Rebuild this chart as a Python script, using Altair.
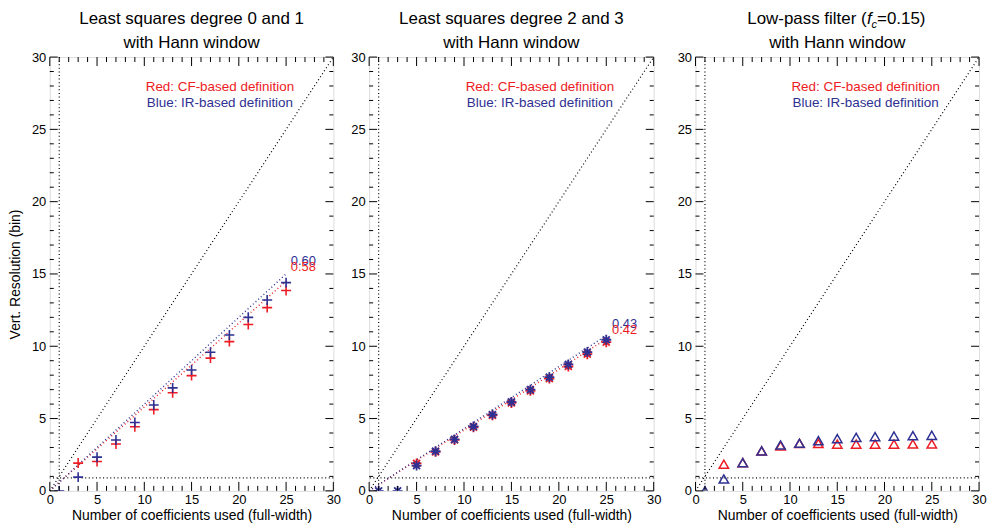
import altair as alt
import pandas as pd

FONT = "Liberation Sans"
RED = "#ed1c24"
BLUE = "#2e3192"
H = 436
WIDTHS = [285, 286, 285]
EXTENTS = [20, 21, 27]

title_line1 = ["Least squares degree 0 and 1", "Least squares degree 2 and 3", None]
title_line2 = "with Hann window"
title3_parts = ["Low-pass filter (", "f", "c", "=0.15)"]
x_title = "Number of coefficients used (full-width)"
y_title = "Vert. Resolution (bin)"
legend_texts = ["Red: CF-based definition", "Blue: IR-based definition"]
legend_x = [18.0, 18.0]
legend_y = [27.9, 26.8]

major_ticks = [0, 5, 10, 15, 20, 25, 30]
minor_ticks = [v for v in range(31) if v % 5 != 0]

# Panel 1: least squares degree 0 and 1
p1_red_x = [3, 5, 7, 9, 11, 13, 15, 17, 19, 21, 23, 25]
p1_red_y = [1.92, 2.03, 3.24, 4.43, 5.62, 6.78, 7.97, 9.18, 10.32, 11.5, 12.67, 13.86]
p1_blue_x = [1, 3, 5, 7, 9, 11, 13, 15, 17, 19, 21, 23, 25]
p1_blue_y = [0.0, 0.95, 2.33, 3.52, 4.73, 5.94, 7.12, 8.36, 9.59, 10.78, 12.0, 13.2, 14.4]
p1_fit_x = [0, 25]
p1_fit_red = [0, 14.5]
p1_fit_blue = [0, 15.0]
p1_labels = ["0.60", "0.58"]
p1_label_x = [25.5, 25.5]
p1_label_y = [15.9, 15.5]

# Panel 2: least squares degree 2 and 3
p2_red_x = [5, 7, 9, 11, 13, 15, 17, 19, 21, 23, 25]
p2_red_y = [1.9, 2.7, 3.52, 4.4, 5.22, 6.08, 6.92, 7.76, 8.6, 9.45, 10.28]
p2_blue_x = [1, 3, 5, 7, 9, 11, 13, 15, 17, 19, 21, 23, 25]
p2_blue_y = [0.0, 0.0, 1.75, 2.74, 3.56, 4.45, 5.28, 6.15, 7.0, 7.86, 8.74, 9.6, 10.45]
p2_fit_x = [0, 25]
p2_fit_red = [0, 10.5]
p2_fit_blue = [0, 10.75]
p2_labels = ["0.43", "0.42"]
p2_label_x = [25.6, 25.6]
p2_label_y = [11.55, 11.1]

# Panel 3: low-pass filter
p3_red_x = [3, 5, 7, 9, 11, 13, 15, 17, 19, 21, 23, 25]
p3_red_y = [1.84, 1.95, 2.76, 3.1, 3.28, 3.28, 3.23, 3.23, 3.23, 3.23, 3.24, 3.25]
p3_blue_x = [1, 3, 5, 7, 9, 11, 13, 15, 17, 19, 21, 23, 25]
p3_blue_y = [0.0, 0.82, 1.95, 2.76, 3.17, 3.29, 3.47, 3.61, 3.70, 3.75, 3.79, 3.82, 3.84]

diag_x = [0, 30]
diag_y = [0, 30]
vline_x = [1]
hline_y = [0.9]

PLUS = "M-1,0L1,0M0,-1L0,1"
STAR = "M-1,0L1,0M0,-1L0,1M-0.7,-0.7L0.7,0.7M-0.7,0.7L0.7,-0.7"

# baselines of the two title lines, relative to the plot top (text drawn with
# baseline "top": Vega puts the alphabetic baseline 0.79*fontSize below y)
L1_BASE = -33
L2_BASE = -9
TFS = 17


def make_panel(idx, red_x, red_y, blue_x, blue_y, shape, size, sw,
               fit=None, labels=None):
    W = WIDTHS[idx]
    sc = alt.Scale(domain=[0, 30], nice=False, zero=False)
    X = alt.X("x:Q", scale=sc, axis=alt.Axis(
        values=major_ticks, ticks=False, domain=False, grid=False,
        labelFontSize=13, labelPadding=3, labelColor="black", labelFlush=False,
        labelOverlap=False, labelFont=FONT,
        title=x_title, titleFontSize=14, titleFontWeight="normal",
        titlePadding=1.5, titleColor="black", titleFont=FONT))
    yax = dict(values=major_ticks, ticks=False, domain=False, grid=False,
               labelFontSize=13, labelPadding=4, labelColor="black",
               labelFlush=False, labelOverlap=False, labelFont=FONT,
               minExtent=EXTENTS[idx])
    if idx == 0:
        yax.update(title=y_title, titleFontSize=14, titleFontWeight="normal",
                   titlePadding=7, titleColor="black", titleFont=FONT)
    else:
        yax.update(title=None)
    Y = alt.Y("y:Q", scale=alt.Scale(domain=[0, 30], nice=False, zero=False),
              axis=alt.Axis(**yax))

    layers = []
    dot = dict(strokeDash=[1, 2.6], strokeWidth=1.2, color="black")
    layers.append(alt.Chart(pd.DataFrame({"x": diag_x, "y": diag_y}))
                  .mark_line(clip=True, **dot).encode(x=X, y=Y))
    layers.append(alt.Chart(pd.DataFrame({"x": vline_x}))
                  .mark_rule(**dot).encode(x=X))
    layers.append(alt.Chart(pd.DataFrame({"y": hline_y}))
                  .mark_rule(**dot).encode(y=Y))

    if fit is not None:
        fx, fr, fb = fit
        layers.append(alt.Chart(pd.DataFrame({"x": fx, "y": fr}))
                      .mark_line(strokeDash=[1, 2.6], strokeWidth=1.4, color=RED)
                      .encode(x=X, y=Y))
        layers.append(alt.Chart(pd.DataFrame({"x": fx, "y": fb}))
                      .mark_line(strokeDash=[1, 2.6], strokeWidth=1.4, color=BLUE)
                      .encode(x=X, y=Y))

    for xs, ys, col in [(red_x, red_y, RED), (blue_x, blue_y, BLUE)]:
        layers.append(alt.Chart(pd.DataFrame({"x": xs, "y": ys}))
                      .mark_point(shape=shape, size=size, filled=False,
                                  strokeWidth=sw, color=col, opacity=1, clip=True)
                      .encode(x=X, y=Y))

    if labels is not None:
        lt, lx, ly = labels
        for t, xx, yy, col in zip(lt, lx, ly, [BLUE, RED]):
            layers.append(alt.Chart(pd.DataFrame({"x": [xx], "y": [yy]}))
                          .mark_text(text=t, align="left", baseline="middle",
                                     fontSize=13, font=FONT, color=col)
                          .encode(x=X, y=Y))

    for t, xx, yy, col in zip(legend_texts, legend_x, legend_y, [RED, BLUE]):
        layers.append(alt.Chart(pd.DataFrame({"x": [xx], "y": [yy]}))
                      .mark_text(text=t, align="center", baseline="middle",
                                 fontSize=13.5, font=FONT, color=col)
                      .encode(x=X, y=Y))

    # inward ticks on all four sides
    for vals, xl, yl in [(major_ticks, 9, 8), (minor_ticks, 5, 4)]:
        dx = pd.DataFrame({"x": vals})
        dy = pd.DataFrame({"y": vals})
        tk = dict(color="black", strokeWidth=1)
        layers.append(alt.Chart(dx).mark_rule(**tk).encode(
            x=X, y=alt.value(H), y2=alt.value(H - xl)))
        layers.append(alt.Chart(dx).mark_rule(**tk).encode(
            x=X, y=alt.value(0), y2=alt.value(xl)))
        layers.append(alt.Chart(dy).mark_rule(**tk).encode(
            y=Y, x=alt.value(0), x2=alt.value(yl)))
        layers.append(alt.Chart(dy).mark_rule(**tk).encode(
            y=Y, x=alt.value(W), x2=alt.value(W - yl)))

    # two-line panel title drawn as text
    one = pd.DataFrame({"a": [0]})
    base = dict(font=FONT, color="black", baseline="top")
    t1 = L1_BASE - 0.79 * TFS
    t2 = L2_BASE - 0.79 * TFS
    if title_line1[idx] is not None:
        layers.append(alt.Chart(one).mark_text(
            text=title_line1[idx], align="center", fontSize=TFS, **base).encode(
            x=alt.value(W / 2), y=alt.value(t1)))
    else:
        P = 172
        layers.append(alt.Chart(one).mark_text(
            text=title3_parts[0], align="right", fontSize=TFS, **base).encode(
            x=alt.value(P), y=alt.value(t1)))
        layers.append(alt.Chart(one).mark_text(
            text=title3_parts[1], align="left", fontSize=TFS, fontStyle="italic",
            **base).encode(x=alt.value(P + 0.5), y=alt.value(t1)))
        layers.append(alt.Chart(one).mark_text(
            text=title3_parts[2], align="left", fontSize=11, fontStyle="italic",
            **base).encode(x=alt.value(P + 5),
                           y=alt.value(L1_BASE + 3.5 - 0.79 * 11)))
        layers.append(alt.Chart(one).mark_text(
            text=title3_parts[3], align="left", fontSize=TFS, **base).encode(
            x=alt.value(P + 10.5), y=alt.value(t1)))
    layers.append(alt.Chart(one).mark_text(
        text=title_line2, align="center", fontSize=TFS, **base).encode(
        x=alt.value(W / 2), y=alt.value(t2)))

    return alt.layer(*layers).properties(width=W, height=H)


p1 = make_panel(0, p1_red_x, p1_red_y, p1_blue_x, p1_blue_y, PLUS, 100, 1.6,
                fit=(p1_fit_x, p1_fit_red, p1_fit_blue),
                labels=(p1_labels, p1_label_x, p1_label_y))
p2 = make_panel(1, p2_red_x, p2_red_y, p2_blue_x, p2_blue_y, STAR, 100, 1.8,
                fit=(p2_fit_x, p2_fit_red, p2_fit_blue),
                labels=(p2_labels, p2_label_x, p2_label_y))
p3 = make_panel(2, p3_red_x, p3_red_y, p3_blue_x, p3_blue_y, "triangle-up", 90, 1.5)

chart = alt.hconcat(p1, p2, p3, spacing=6).properties(
    padding={"left": 0, "top": 0, "right": 0, "bottom": 0}
).configure_view(stroke="black", strokeWidth=1).configure(font=FONT)

chart.save("out.html", embed_options={"renderer": "svg", "actions": False})
